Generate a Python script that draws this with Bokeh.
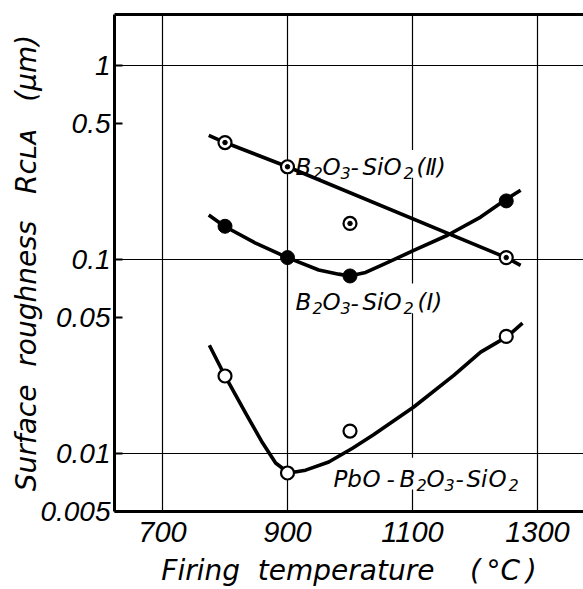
import math
from bokeh.plotting import figure
from bokeh.models import Range1d, FixedTicker, LinearAxis, Label, BoxAnnotation
from bokeh.embed import file_html
from bokeh.resources import INLINE

# ---------------- data ----------------
temps = [800, 900, 1000, 1250]
rough_I = [0.148, 0.102, 0.082, 0.20]        # B2O3-SiO2 (I), filled circles
rough_II = [0.40, 0.30, 0.153, 0.102]        # B2O3-SiO2 (II), dotted circles
rough_PbO = [0.025, 0.0079, 0.013, 0.040]    # PbO-B2O3-SiO2, open circles

# hand-drawn trend curves, as traced in the original figure
curve_I_t = [774, 799, 849, 900, 950, 982, 999, 1025, 1050, 1102, 1156, 1209, 1247, 1273]
curve_I_v = [0.169, 0.148, 0.121, 0.102, 0.088, 0.0838, 0.082, 0.0855, 0.093, 0.111, 0.133,
             0.165, 0.201, 0.227]
line_II_t = [774, 800, 900, 1250, 1273]
line_II_v = [0.436, 0.40, 0.30, 0.102, 0.093]
curve_PbO_t = [775, 800, 833, 860, 881, 902, 929, 966, 1004, 1037, 1102, 1166, 1209, 1252, 1276]
curve_PbO_v = [0.036, 0.025, 0.0161, 0.0113, 0.0089, 0.0079, 0.00817, 0.0090, 0.0106,
               0.0124, 0.0173, 0.0252, 0.0332, 0.040, 0.0468]

x_ticks = [700, 900, 1100, 1300]
y_ticks = [0.005, 0.01, 0.05, 0.1, 0.5, 1]
y_tick_labels = ["0.005", "0.01", "0.05", "0.1", "0.5", "1"]
y_grid = [0.01, 0.1, 1]

NB = "\u00a0"
TH = "\u2009"
x_title = "Firing" + NB + " temperature" + NB * 3 + " (" + TH + "°C" + TH + ")"
y_title = "Surface" + NB + " roughness" + NB * 2 + " Rᴄʟᴀ" + NB * 2 + " (μm)"

# ---------------- geometry ----------------
W, H = 583, 589
FL, FR, FT, FB = 114, 583, 14, 513
X0, X1 = 623.2, 1373.6
Y0, Y1 = 0.005, 1.83


def dx(px):
    return X0 + (px - FL) / (FR - FL) * (X1 - X0)


def dy(py):
    l0, l1 = math.log10(Y0), math.log10(Y1)
    return 10 ** (l0 + (FB - py) / (FB - FT) * (l1 - l0))


p = figure(width=W, height=H, x_range=Range1d(X0, X1), y_range=Range1d(Y0, Y1),
           y_axis_type="log", output_backend="svg", toolbar_location=None,
           min_border_left=FL, min_border_right=0, min_border_top=FT,
           min_border_bottom=H - FB)
p.outline_line_color = None
p.background_fill_color = "white"
p.border_fill_color = "white"

TICK_FONT = "Liberation Sans"
TITLE_FONT = "DejaVu Sans"

p.xaxis.ticker = FixedTicker(ticks=x_ticks)
p.xgrid.ticker = FixedTicker(ticks=x_ticks)
p.yaxis.ticker = FixedTicker(ticks=y_ticks)
p.yaxis.major_label_overrides = dict(zip(y_ticks, y_tick_labels))
p.ygrid.ticker = FixedTicker(ticks=y_grid)

for ax in (p.xaxis, p.yaxis):
    ax.axis_line_width = 3
    ax.axis_line_color = "black"
    ax.major_label_text_font = TICK_FONT
    ax.major_label_text_font_style = "italic"
    ax.major_label_text_color = "black"
    ax.minor_tick_in = 0
    ax.minor_tick_out = 0
    ax.axis_label_text_font = TITLE_FONT
    ax.axis_label_text_font_style = "italic"
    ax.axis_label_text_font_size = "28px"
    ax.axis_label_text_color = "black"

p.xaxis.major_label_text_font_size = "29px"
p.yaxis.major_label_text_font_size = "28px"
p.xaxis.major_tick_in = 0
p.xaxis.major_tick_out = 0
p.xaxis.major_label_standoff = 10
p.xaxis.axis_label = x_title
p.xaxis.axis_label_standoff = 9
p.yaxis.major_tick_in = 8
p.yaxis.major_tick_out = 0
p.yaxis.major_tick_line_width = 2
p.yaxis.major_label_standoff = 4
p.yaxis.axis_label = y_title
p.yaxis.axis_label_standoff = -6

top = LinearAxis(ticker=FixedTicker(ticks=[]), axis_line_width=3, axis_line_color="black",
                 major_label_text_font_size="0px", major_tick_in=0, major_tick_out=0,
                 minor_tick_in=0, minor_tick_out=0, major_label_standoff=0)
p.add_layout(top, "above")

for g in (p.xgrid, p.ygrid):
    g.grid_line_color = "black"
    g.grid_line_width = 1.2
    g.grid_line_alpha = 1

# white areas behind the curve labels (the grid is interrupted there)
for (l, r, t, b) in [(292, 475, 150, 178), (292, 466, 284, 314), (329, 531, 459, 491)]:
    p.add_layout(BoxAnnotation(left=dx(l), right=dx(r), top=dy(t), bottom=dy(b),
                               fill_color="white", fill_alpha=1, line_color=None,
                               level="underlay"))

# ---------------- curves ----------------
LW = 3.6
p.line(line_II_t, line_II_v, line_width=LW, color="black", line_join="round")
p.line(curve_I_t, curve_I_v, line_width=LW, color="black", line_join="round")
p.line(curve_PbO_t, curve_PbO_v, line_width=LW, color="black", line_join="round")

# ---------------- markers ----------------
p.scatter(temps, rough_I, marker="circle", size=14, fill_color="black", line_color="black")
p.scatter(temps, rough_PbO, marker="circle", size=13, fill_color="white",
          line_color="black", line_width=2.2)
p.scatter(temps, rough_II, marker="circle", size=13, fill_color="white",
          line_color="black", line_width=2.2)
p.scatter(temps, rough_II, marker="circle", size=4.5, fill_color="black", line_color="black")


# ---------------- curve labels ----------------
def put(text, px, py, size, font=TITLE_FONT, style="italic"):
    p.add_layout(Label(x=dx(px), y=dy(py), x_units="data", y_units="data", text=text,
                       text_font=font, text_font_size=f"{size}px", text_font_style=style,
                       text_color="black", text_align="left", text_baseline="alphabetic"))


MAIN, SUB, DROP = 23, 16, 6


def chem_label(pieces, base):
    for t, x, sub in pieces:
        put(t, x, base + DROP if sub else base, SUB if sub else MAIN)


chem_label([("B", 295, 0), ("2", 312, 1), ("O", 322, 0), ("3", 340, 1), ("-", 350, 0),
            ("Si", 362, 0), ("O", 383, 0), ("2", 403, 1), ("(Ⅱ)", 416, 0)], 167)
chem_label([("B", 295, 0), ("2", 312, 1), ("O", 322, 0), ("3", 340, 1), ("-", 350, 0),
            ("Si", 362, 0), ("O", 383, 0), ("2", 403, 1), ("(Ⅰ)", 417, 0)], 303)
chem_label([("Pb", 333, 0), ("O", 362, 0), ("-", 386, 0), ("B", 399, 0), ("2", 416, 1),
            ("O", 426, 0), ("3", 444, 1), ("-", 455, 0), ("Si", 466, 0), ("O", 488, 0),
            ("2", 508, 1)], 480)

open("out.html", "w").write(file_html(p, INLINE))
